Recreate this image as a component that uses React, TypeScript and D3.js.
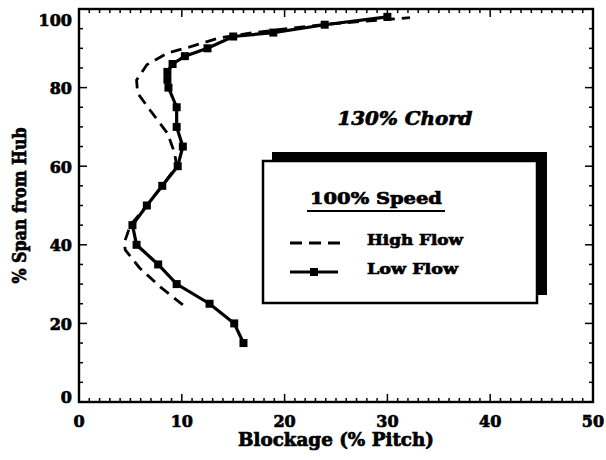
import React from "react";
import * as d3 from "d3";

// Low Flow (solid line with square markers): % span and blockage (% pitch)
const lowFlowSpan = [15, 20, 25, 30, 35, 40, 45, 50, 55, 60, 65, 70, 75, 80, 82, 84, 86, 88, 90, 93, 94, 96, 98];
const lowFlowBlockage = [16.0, 15.1, 12.7, 9.5, 7.7, 5.6, 5.2, 6.6, 8.1, 9.6, 10.1, 9.5, 9.5, 8.7, 8.6, 8.6, 9.1, 10.3, 12.5, 15.0, 18.9, 23.9, 30.0];

// High Flow (dashed line)
const highFlowSpan = [24.7, 29.3, 34.1, 38.7, 40.5, 45, 50, 55, 60, 63.4, 68.4, 74.3, 78.6, 81.9, 85.8, 88.8, 90.6, 92.6, 94, 96.1, 97.8];
const highFlowBlockage = [10.1, 7.9, 5.9, 4.5, 4.4, 5.0, 6.6, 8.1, 9.5, 9.3, 8.6, 6.9, 5.7, 5.6, 6.6, 8.6, 11.1, 13.6, 17.0, 24.0, 32.2];

const xMajorTicks = [0, 10, 20, 30, 40, 50];
const yMajorTicks = [0, 20, 40, 60, 80, 100];

const FONT = "'DejaVu Serif', 'Liberation Serif', serif";
const HEAVY = { stroke: "#000", strokeWidth: 0.7, paintOrder: "stroke" } as React.CSSProperties;

export default function App() {
  const W = 606, H = 460;
  const x = d3.scaleLinear().domain([0, 50]).range([79, 593]);
  const y = d3.scaleLinear().domain([0, 100]).range([402, 9]);

  const low = lowFlowSpan.map((s, i) => [lowFlowBlockage[i], s] as [number, number]);
  const high = highFlowSpan.map((s, i) => [highFlowBlockage[i], s] as [number, number]);
  const line = d3.line<[number, number]>().x(d => x(d[0])).y(d => y(d[1]));

  const xMinor = d3.range(0, 51, 1).filter(v => v % 10 !== 0);
  const yMinor = d3.range(0, 101, 5).filter(v => v % 20 !== 0);
  const [x0, x1] = x.range();
  const [y0, y1] = y.range();
  const majLen = 8, minLen = 4;

  return (
    <svg width={W} height={H} style={{ position: "absolute", left: 0, top: 0, background: "#fff" }}>
      <rect x={0} y={0} width={W} height={H} fill="#fff" />
      {/* minor ticks */}
      <g stroke="#000" strokeWidth={1.5}>
        {xMinor.map(v => (
          <g key={"xm" + v}>
            <line x1={x(v)} x2={x(v)} y1={y0} y2={y0 - minLen} />
            <line x1={x(v)} x2={x(v)} y1={y1} y2={y1 + minLen} />
          </g>
        ))}
        {yMinor.map(v => (
          <g key={"ym" + v}>
            <line x1={x0} x2={x0 + minLen} y1={y(v)} y2={y(v)} />
            <line x1={x1} x2={x1 - minLen} y1={y(v)} y2={y(v)} />
          </g>
        ))}
        {xMajorTicks.map(v => (
          <g key={"xM" + v}>
            <line x1={x(v)} x2={x(v)} y1={y0} y2={y0 - majLen} />
            <line x1={x(v)} x2={x(v)} y1={y1} y2={y1 + majLen} />
          </g>
        ))}
        {yMajorTicks.map(v => (
          <g key={"yM" + v}>
            <line x1={x0} x2={x0 + majLen} y1={y(v)} y2={y(v)} />
            <line x1={x1} x2={x1 - majLen} y1={y(v)} y2={y(v)} />
          </g>
        ))}
      </g>
      {/* frame */}
      <rect x={x0} y={y1} width={x1 - x0} height={y0 - y1} fill="none" stroke="#000" strokeWidth={2.4} />

      {/* tick labels */}
      <g fontFamily={FONT} fontWeight="bold" fontSize={16} fill="#000" style={HEAVY}>
        {xMajorTicks.map(v => (
          <text key={"xl" + v} x={x(v)} y={421} textAnchor="middle" dominantBaseline="central">{v}</text>
        ))}
        {yMajorTicks.map(v => (
          <text key={"yl" + v} x={72} y={Math.min(Math.max(y(v) + 1, 20), 397)} textAnchor="end" dominantBaseline="central">{v}</text>
        ))}
      </g>

      {/* axis titles */}
      <text x={(x0 + x1) / 2} y={446} textAnchor="middle" fontFamily={FONT} fontWeight="bold" fontSize={18}
        textLength={196} lengthAdjust="spacingAndGlyphs" style={HEAVY}>Blockage (% Pitch)</text>
      <text transform={`translate(26,${(y0 + y1) / 2}) rotate(-90)`} textAnchor="middle" fontFamily={FONT}
        fontWeight="bold" fontSize={18} textLength={156} lengthAdjust="spacingAndGlyphs" style={HEAVY}>% Span from Hub</text>

      {/* data */}
      <path d={line(high) || ""} fill="none" stroke="#000" strokeWidth={2.8} strokeDasharray="11 7" />
      <path d={line(low) || ""} fill="none" stroke="#000" strokeWidth={3.2} />
      {low.map((d, i) => (
        <rect key={"m" + i} x={x(d[0]) - 4} y={y(d[1]) - 4} width={8} height={8} fill="#000" />
      ))}

      {/* annotation */}
      <text x={405} y={125} textAnchor="middle" fontFamily={FONT} fontWeight="bold" fontStyle="italic"
        fontSize={19} textLength={135} lengthAdjust="spacingAndGlyphs" style={HEAVY}>130% Chord</text>

      {/* legend */}
      <rect x={272} y={152} width={275} height={143} fill="#000" />
      <rect x={263} y={161} width={274} height={142} fill="#fff" stroke="#000" strokeWidth={2.5} />
      <text x={376} y={204} textAnchor="middle" fontFamily={FONT} fontWeight="bold" fontSize={17}
        textLength={132} lengthAdjust="spacingAndGlyphs" style={HEAVY}>100% Speed</text>
      <line x1={307} x2={445} y1={211} y2={211} stroke="#000" strokeWidth={2} />
      <line x1={290} x2={340} y1={243} y2={243} stroke="#000" strokeWidth={2.8} strokeDasharray="12 7" />
      <text x={367} y={245} fontFamily={FONT} fontWeight="bold" fontSize={15}
        textLength={96} lengthAdjust="spacingAndGlyphs" style={HEAVY}>High Flow</text>
      <line x1={290} x2={338} y1={272} y2={272} stroke="#000" strokeWidth={3.2} />
      <rect x={314 - 4} y={272 - 4} width={8} height={8} fill="#000" />
      <text x={367} y={274} fontFamily={FONT} fontWeight="bold" fontSize={15}
        textLength={91} lengthAdjust="spacingAndGlyphs" style={HEAVY}>Low Flow</text>
    </svg>
  );
}
